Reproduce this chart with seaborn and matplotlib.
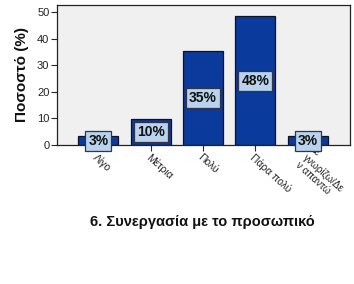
import matplotlib
matplotlib.use("Agg")
import matplotlib.pyplot as plt
import matplotlib.transforms as mtransforms
import seaborn as sns
import pandas as pd

categories = ["Λίγο", "Μέτρια", "Πολύ", "Πάρα πολύ", "γνωρίζω/Δε\nν απαντώ"]
hidden_prefix = "Δε"
values = [3.2, 9.7, 35.5, 48.4, 3.2]
labels = ["3%", "10%", "35%", "48%", "3%"]
yticks = [0, 10, 20, 30, 40, 50]

sns.set_theme(style="white")
plt.rcParams['font.family'] = ['Liberation Sans', 'DejaVu Sans']

df = pd.DataFrame({"cat": categories, "val": values})

fig = plt.figure(figsize=(3.54, 2.84), dpi=100)
ax = fig.add_axes([57/354, 1-145/284, 293/354, 140/284])
ax.set_facecolor("#f0f0f0")

sns.barplot(data=df, x="cat", y="val", color="#0a3a9c", width=0.76,
            edgecolor="#111122", linewidth=0.9, saturation=1, ax=ax)

for i, (v, lab) in enumerate(zip(values, labels)):
    ax.text(i, v / 2, lab, ha="center", va="center", fontsize=10,
            fontweight="bold", color="#111111", zorder=5,
            bbox=dict(boxstyle="square,pad=0.22", facecolor="#b9d3ee",
                      edgecolor="#333344", linewidth=0.9))

ax.set_xlim(-0.79, 4.81)
ax.set_ylim(0, 52.6)
ax.set_yticks(yticks)
ax.set_xticks(range(len(categories)))
ax.set_xticklabels(categories, rotation=-42, ha="left", va="top",
                   rotation_mode="anchor", fontsize=7.5, color="#222222",
                   linespacing=1.0)
ax.get_xticklabels()[-1].set_fontsize(7.2)

# first line of the last category label, partly hidden behind the bar/box
trans = mtransforms.offset_copy(ax.get_xaxis_transform(), fig=fig,
                                x=4.8, y=1.7, units="points")
ax.text(len(categories) - 1, 0, hidden_prefix, transform=trans, rotation=-42,
        ha="left", va="top", rotation_mode="anchor", fontsize=7.2,
        color="#222222", zorder=0.8, clip_on=False)

ax.tick_params(axis="y", labelsize=8, length=4, width=0.8, direction="out",
               left=True, pad=1.5, labelcolor="#222222")
ax.tick_params(axis="x", length=4, width=0.8, direction="out", bottom=True, pad=1)
for s in ax.spines.values():
    s.set_color("#222222")
    s.set_linewidth(0.9)

ax.set_xlabel("6. Συνεργασία με το προσωπικό", fontsize=10.5, fontweight="bold",
              labelpad=0, color="#111111")
ax.xaxis.set_label_coords(0.495, -0.5)
ax.set_ylabel("Ποσοστό (%)", fontsize=11, fontweight="bold", labelpad=6,
              color="#111111")

fig.savefig("out.png", dpi=100, facecolor="white")
